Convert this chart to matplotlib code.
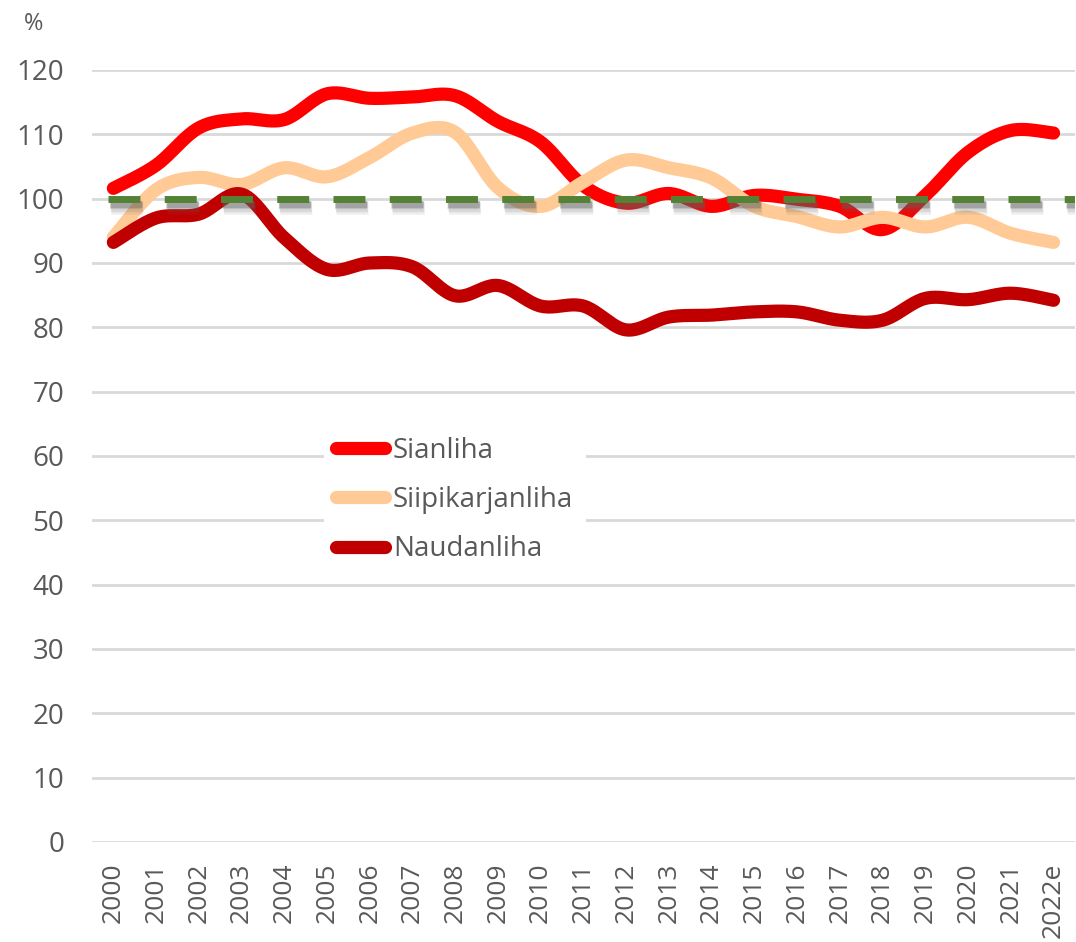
import numpy as np
import matplotlib
matplotlib.use("Agg")
import matplotlib.pyplot as plt
import matplotlib.patheffects as pe

plt.rcParams['font.family'] = ['Open Sans', 'DejaVu Sans']

# vuodet ja indeksit (%)
vuodet = ['2000', '2001', '2002', '2003', '2004', '2005', '2006', '2007', '2008',
          '2009', '2010', '2011', '2012', '2013', '2014', '2015', '2016', '2017',
          '2018', '2019', '2020', '2021', '2022e']
sianliha = [101.6, 105.2, 111.0, 112.4, 112.3, 116.3, 115.6, 115.8, 116.0, 112.0,
            108.8, 102.0, 99.3, 100.8, 98.8, 100.5, 99.9, 98.8, 95.2, 100.5,
            107.2, 110.6, 110.2]
siipikarjanliha = [94.0, 101.4, 103.3, 102.2, 104.8, 103.4, 106.4, 110.2, 110.3, 101.7,
                   98.8, 102.6, 106.0, 104.8, 103.2, 98.8, 97.2, 95.6, 97.1, 95.6,
                   97.1, 94.6, 93.2]
naudanliha = [93.2, 97.0, 97.6, 100.7, 93.9, 89.0, 90.0, 89.4, 84.9, 86.5,
              83.3, 83.3, 79.6, 81.6, 81.9, 82.4, 82.4, 81.1, 81.1, 84.5,
              84.3, 85.3, 84.2]
vertailutaso = 100

sarjat = [('Sianliha', sianliha, '#FF0000'),
          ('Siipikarjanliha', siipikarjanliha, '#FFCA95'),
          ('Naudanliha', naudanliha, '#C00000')]


def pehmennys(xs, ys, n=24):
    # Bezier-pehmennys pisteiden kautta (kuten taulukkolaskennan "smoothed line")
    p = np.column_stack([xs, ys]).astype(float)
    p = np.vstack([p[0], p, p[-1]])
    out = []
    for i in range(1, len(p) - 2):
        p0, p1, p2, p3 = p[i - 1], p[i], p[i + 1], p[i + 2]
        c1 = p1 + (p2 - p0) / 6
        c2 = p2 - (p3 - p1) / 6
        t = np.linspace(0, 1, n)[:, None]
        seg = ((1 - t) ** 3) * p1 + 3 * ((1 - t) ** 2) * t * c1 + 3 * (1 - t) * t ** 2 * c2 + t ** 3 * p2
        out.append(seg if i == 1 else seg[1:])
    s = np.vstack(out)
    return s[:, 0], s[:, 1]


fig = plt.figure(figsize=(10.76, 9.42), dpi=100)
ax = fig.add_axes([0.0855, 0.1062, 0.9135, 0.8195])

x = np.arange(len(vuodet))
for nimi, arvot, vari in sarjat:
    sx, sy = pehmennys(x, arvot)
    ax.plot(sx, sy, color=vari, lw=9.5, solid_capstyle='round',
            solid_joinstyle='round', label=nimi, clip_on=False, zorder=3)

# 100 %:n viiva varjolla
varjo = [pe.SimpleLineShadow(offset=(o * 0.6, -o * 1.6), shadow_color='#606060', alpha=a, linewidth=w)
         for o, a, w in [(4.2, 0.10, 9), (3.6, 0.15, 7.5), (3.0, 0.22, 6), (2.4, 0.28, 5)]]
ax.axhline(vertailutaso, xmin=0.016, xmax=1.0, color='#548235', lw=5, dashes=(4.6, 3.5),
           dash_capstyle='butt', zorder=5, path_effects=varjo + [pe.Normal()])

ax.set_xlim(-0.5, len(vuodet) - 0.5)
ax.set_ylim(0, 120)
ax.set_yticks(range(0, 121, 10))
ax.set_xticks(x)
ax.set_xticklabels(vuodet, rotation=90)
ax.tick_params(axis='x', length=0, pad=15, labelsize=19, labelcolor='#595959')
ax.tick_params(axis='y', length=0, pad=20, labelsize=20, labelcolor='#595959')
for s in ax.spines.values():
    s.set_visible(False)
ax.grid(axis='y', color='#D9D9D9', lw=2)
ax.set_axisbelow(True)

fig.text(0.031, 0.974, '%', fontsize=17, color='#595959', ha='center', va='center')

leg = ax.legend(loc='center', bbox_to_anchor=(0.4225, 0.4692), bbox_transform=fig.transFigure,
                fontsize=20, frameon=True, handlelength=1.75, handletextpad=0.3,
                labelspacing=0.77, borderpad=0.45, borderaxespad=0, fancybox=False)
leg.get_frame().set_facecolor('white')
leg.get_frame().set_edgecolor('none')
leg.get_frame().set_alpha(1)
leg.set_zorder(6)
for t in leg.get_texts():
    t.set_color('#595959')

fig.savefig('out.png', dpi=100)
